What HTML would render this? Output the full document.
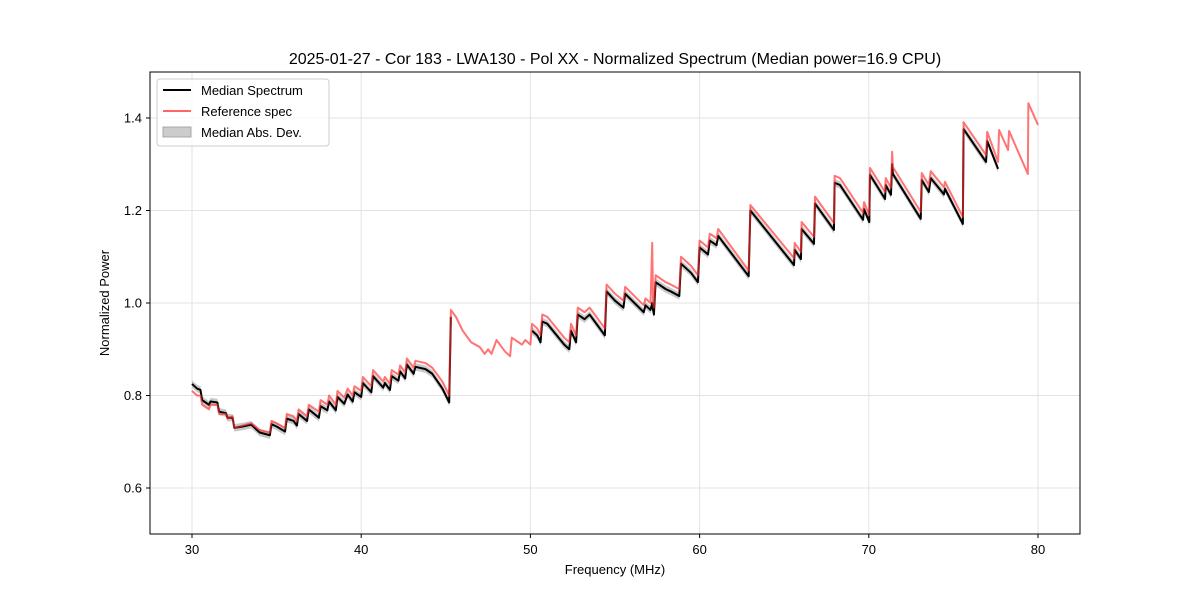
<!DOCTYPE html>
<html><head><meta charset="utf-8"><style>
body{margin:0;background:#fff;}
svg{font-family:"Liberation Sans","DejaVu Sans",sans-serif;}
</style></head><body>
<svg id="chart" width="1200" height="600">
<rect width="1200" height="600" fill="#fff"/>
<text x="615" y="64" text-anchor="middle" font-size="16">2025-01-27 - Cor 183 - LWA130 - Pol XX - Normalized Spectrum (Median power=16.9 CPU)</text>
<g id="grid"></g>
<g id="marks"></g>
<rect x="150" y="72" width="930" height="462" fill="none" stroke="#000" stroke-width="1"/>
<g id="axes"></g>
<text x="615" y="574" text-anchor="middle" font-size="13">Frequency (MHz)</text>
<text transform="translate(109,303) rotate(-90)" text-anchor="middle" font-size="13">Normalized Power</text>
<g>
<rect x="157" y="79" width="172" height="67" rx="3" fill="#fff" fill-opacity="0.8" stroke="#ccc"/>
<line x1="163" y1="90" x2="191" y2="90" stroke="#000" stroke-width="2"/>
<text x="201" y="95" font-size="13">Median Spectrum</text>
<line x1="163" y1="111" x2="191" y2="111" stroke="#ff5555" stroke-opacity="0.9" stroke-width="2"/>
<text x="201" y="116" font-size="13">Reference spec</text>
<rect x="163" y="127" width="28" height="10" fill="#cccccc" stroke="#999" stroke-width="0.8"/>
<text x="201" y="137" font-size="13">Median Abs. Dev.</text>
</g>
</svg>
<script>
const freqs=[30.0,30.3,30.5,30.6,31.0,31.1,31.5,31.6,32.0,32.1,32.4,32.5,33.0,33.5,34.0,34.6,34.7,35.0,35.5,35.6,36.0,36.2,36.3,36.8,36.9,37.5,37.6,38.0,38.1,38.5,38.6,39.0,39.2,39.5,39.6,40.0,40.1,40.6,40.7,41.3,41.4,41.7,41.8,42.2,42.3,42.6,42.7,43.1,43.2,43.8,44.2,44.8,45.2,45.3,
45.6,46.0,46.5,47.0,47.3,47.5,47.7,48.0,48.5,48.8,48.9,49.5,49.7,50.0,
50.1,50.4,50.6,50.7,51.0,52.0,52.3,52.4,52.7,52.8,53.2,53.5,54.4,54.5,55.0,55.5,55.6,56.7,56.8,57.1,57.2,57.25,57.3,57.4,58.0,58.3,58.8,58.9,59.5,59.9,60.0,60.5,60.6,61.0,61.1,62.9,63.0,
65.58,65.62,65.99,66.03,66.76,66.82,67.94,67.98,68.3,69.66,69.72,70.03,70.07,70.96,71.0,71.31,71.38,71.42,73.07,73.13,73.55,73.66,74.44,74.5,75.56,75.6,76.93,77.0,77.64,
77.7,78.23,78.29,79.4,79.43,80.0];
const refSpec=[.81,.80,.80,.78,.77,.78,.78,.76,.76,.75,.755,.73,.735,.74,.725,.72,.745,.74,.73,.76,.755,.745,.77,.755,.78,.765,.79,.78,.80,.78,.81,.795,.815,.80,.82,.81,.84,.82,.855,.83,.84,.825,.855,.845,.865,.85,.88,.86,.875,.87,.86,.83,.80,.985,
.97,.94,.915,.905,.89,.90,.89,.92,.895,.885,.925,.91,.92,.91,
.955,.945,.93,.975,.97,.925,.915,.955,.93,.99,.98,.99,.945,1.04,1.02,1.005,1.035,.995,1.01,1.00,1.13,1.0,.99,1.06,1.045,1.04,1.03,1.10,1.08,1.06,1.135,1.12,1.15,1.14,1.16,1.07,1.212,
1.097,1.13,1.11,1.175,1.143,1.23,1.173,1.275,1.27,1.195,1.218,1.19,1.292,1.24,1.27,1.249,1.327,1.294,1.197,1.281,1.255,1.285,1.25,1.262,1.186,1.391,1.32,1.37,1.305,
1.374,1.331,1.372,1.279,1.432,1.385];
const medianSpec=[.825,.815,.812,.79,.78,.787,.785,.765,.762,.752,.752,.73,.733,.737,.72,.714,.738,.733,.722,.75,.745,.735,.76,.745,.77,.752,.777,.768,.787,.768,.797,.782,.802,.787,.807,.797,.827,.807,.842,.817,.827,.812,.842,.832,.852,.837,.867,.847,.862,.857,.847,.815,.785,.97,
null,null,null,null,null,null,null,null,null,null,null,null,null,null,
.94,.93,.915,.96,.955,.91,.90,.94,.915,.975,.965,.975,.93,1.025,1.005,.99,1.02,.98,.995,.985,1.0,.985,.975,1.045,1.03,1.025,1.015,1.085,1.065,1.045,1.12,1.105,1.135,1.125,1.145,1.058,1.2,
1.082,1.115,1.095,1.16,1.128,1.215,1.158,1.26,1.255,1.18,1.203,1.175,1.277,1.225,1.255,1.234,1.30,1.279,1.182,1.266,1.24,1.27,1.235,1.247,1.171,1.376,1.305,1.35,1.29,
null,null,null,null,null,null];
const madWidth=0.008;
const xTicks=[30,40,50,60,70,80];
const yTicks=[0.6,0.8,1.0,1.2,1.4];
const xTickLabels=["30","40","50","60","70","80"];
const yTickLabels=["0.6","0.8","1.0","1.2","1.4"];

const X=f=>192+(f-30)*16.92;
const Y=v=>488-(v-0.6)*462.5;
const NS='http://www.w3.org/2000/svg';
function mk(tag,attrs,parent){const e=document.createElementNS(NS,tag);for(const k in attrs)e.setAttribute(k,attrs[k]);parent.appendChild(e);return e;}
const grid=document.getElementById('grid'),axes=document.getElementById('axes'),marks=document.getElementById('marks');
xTicks.forEach((t,i)=>{
 const g=mk('line',{x1:X(t),x2:X(t),y1:72,y2:534,stroke:'#e3e3e3','stroke-width':1},grid);
 
 
 const tk=mk('line',{x1:X(t),x2:X(t),y1:534,y2:538,stroke:'#000'},axes);
 
 
 const tx=mk('text',{x:X(t),y:554,'text-anchor':'middle','font-size':13},axes);
 tx.textContent=xTickLabels[i];
 
 
});
yTicks.forEach((t,i)=>{
 const g=mk('line',{x1:150,x2:1080,y1:Y(t),y2:Y(t),stroke:'#e3e3e3','stroke-width':1},grid);
 
 
 const tk=mk('line',{x1:146,x2:150,y1:Y(t),y2:Y(t),stroke:'#000'},axes);
 
 
 const tx=mk('text',{x:142,y:Y(t)+4.5,'text-anchor':'end','font-size':13},axes);
 tx.textContent=yTickLabels[i];
 
 
});
// segments of median
const segs=[];let cur=[];
freqs.forEach((f,i)=>{if(medianSpec[i]==null){if(cur.length)segs.push(cur);cur=[];}else cur.push(i);});
if(cur.length)segs.push(cur);
segs.forEach(s=>{
 const up=s.map(i=>X(freqs[i])+','+Y(medianSpec[i]+madWidth));
 const dn=s.slice().reverse().map(i=>X(freqs[i])+','+Y(medianSpec[i]-madWidth));
 const band=mk('polygon',{points:up.concat(dn).join(' '),fill:'#b0b0b0','fill-opacity':0.7},marks);
 
 
});
segs.forEach(s=>{
 const ln=mk('polyline',{points:s.map(i=>X(freqs[i])+','+Y(medianSpec[i])).join(' '),fill:'none',stroke:'#000','stroke-width':2,'stroke-linejoin':'round'},marks);
 
 
});
const rl=mk('polyline',{points:freqs.map((f,i)=>X(f)+','+Y(refSpec[i])).join(' '),fill:'none',stroke:'#ff2a2a','stroke-opacity':0.65,'stroke-width':2,'stroke-linejoin':'round'},marks);


</script>
</body></html>
